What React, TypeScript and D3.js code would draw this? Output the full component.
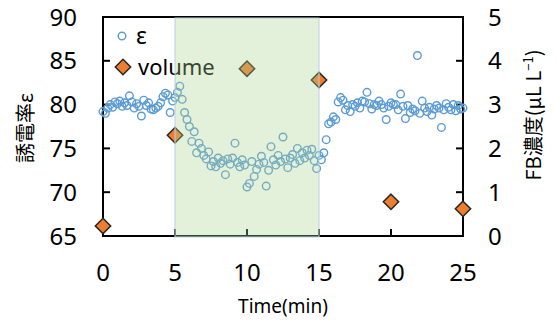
import React from 'react'
import * as d3 from 'd3'

// dielectric constant readings, one every 10 s (t = i / 6 min)
const epsValues = [
  79.2, 79.0, 79.6, 80.0, 79.7, 80.3, 80.1, 80.4, 79.8, 80.2,
  79.9, 81.0, 80.3, 79.6, 80.1, 79.8, 78.7, 80.5, 79.9, 80.2,
  79.5, 79.4, 79.6, 79.8, 80.2, 80.9, 81.3, 81.1, 79.1, 80.4,
  80.8, 81.4, 82.1, 80.6, 79.1, 78.3, 77.5, 75.8, 76.9, 74.5,
  75.6, 75.0, 74.2, 73.8, 74.6, 73.0, 73.5, 72.9, 73.9, 73.3,
  73.6, 72.0, 73.8, 73.2, 73.9, 75.6, 73.4, 72.9, 73.7, 73.1,
  70.6, 71.0, 73.5, 71.8, 72.6, 73.2, 74.1, 73.4, 70.7, 72.5,
  75.2, 73.7, 73.1, 74.2, 73.5, 76.3, 73.8, 72.8, 73.9, 74.3,
  73.3, 75.0, 73.6, 74.5, 73.9, 74.8, 74.2, 74.9, 73.6, 72.7,
  74.2, 73.7, 74.5, 76.0, 77.8, 78.0, 78.6, 78.3, 80.3, 80.8,
  80.5, 79.4, 79.9, 79.2, 80.0, 79.8, 80.2, 79.6, 80.4, 80.3,
  81.4, 80.1, 79.5, 80.0, 79.9, 80.4, 80.0, 79.6, 78.3, 79.8,
  80.2, 80.0, 80.0, 79.4, 81.2, 79.8, 78.4, 79.9, 79.1, 79.5,
  79.3, 85.6, 79.0, 80.4, 79.6, 79.2, 79.7, 78.8, 79.5, 79.9,
  79.6, 77.4, 79.4, 80.1, 79.7, 79.4, 80.0, 79.3, 79.9, 79.5,
  79.6,
]
const epsTimes = epsValues.map((_, i) => i / 6)

const volTimes = [0, 5, 10, 15, 20, 25]
const volValues = [0.23, 2.3, 3.82, 3.56, 0.78, 0.62]

const xTicks = [0, 5, 10, 15, 20, 25]
const yTicks = [65, 70, 75, 80, 85, 90]
const y2Ticks = [0, 1, 2, 3, 4, 5]
const shadeRange = [5, 15]

const FONT = '"Noto Sans", sans-serif'
const CJK = '"Noto Sans CJK JP", "Noto Sans", sans-serif'

export default function App() {
  const W = 556
  const H = 324
  const m = { left: 103, right: 93, top: 17, bottom: 88 }
  const x = d3.scaleLinear().domain([0, 25]).range([m.left, W - m.right])
  const y = d3.scaleLinear().domain([65, 90]).range([H - m.bottom, m.top])
  const y2 = d3.scaleLinear().domain([0, 5]).range([H - m.bottom, m.top])
  const x0 = x(0), x1 = x(25), yb = y(65), yt = y(90)

  const diamond = d3.symbol().type(d3.symbolDiamond2).size(150)()

  return (
    <div style={{ position: 'fixed', left: 0, top: 0 }}>
      <svg width={W} height={H} style={{ display: 'block', background: '#fff' }}>
        {/* frame */}
        <rect x={x0} y={yt} width={x1 - x0} height={yb - yt} fill="none" stroke="#000" strokeWidth={2} />
        {/* inward ticks */}
        {yTicks.slice(1, -1).map(t => (
          <line key={'yl' + t} x1={x0} x2={x0 + 7} y1={y(t)} y2={y(t)} stroke="#000" strokeWidth={2} />
        ))}
        {y2Ticks.slice(1, -1).map(t => (
          <line key={'yr' + t} x1={x1} x2={x1 - 7} y1={y2(t)} y2={y2(t)} stroke="#000" strokeWidth={2} />
        ))}
        {xTicks.slice(1, -1).map(t => (
          <line key={'xt' + t} x1={x(t)} x2={x(t)} y1={yb} y2={yb - 7} stroke="#000" strokeWidth={2} />
        ))}

        {/* tick labels */}
        {yTicks.map(t => (
          <text key={'yt' + t} x={77} y={y(t)} dy="0.36em" textAnchor="end" fontFamily={FONT} fontSize={24}>{t}</text>
        ))}
        {y2Ticks.map(t => (
          <text key={'y2t' + t} x={488} y={y2(t)} dy="0.36em" textAnchor="start" fontFamily={FONT} fontSize={24}>{t}</text>
        ))}
        {xTicks.map(t => (
          <text key={'xl' + t} x={x(t)} y={281} textAnchor="middle" fontFamily={FONT} fontSize={24}>{t}</text>
        ))}

        {/* axis titles */}
        <text x={283} y={313} textAnchor="middle" fontFamily={FONT} fontSize={19}>Time(min)</text>
        <text transform="translate(33,128) rotate(-90)" textAnchor="middle" fontFamily={CJK} fontSize={20}>誘電率ε</text>
        <text transform="translate(541,115) rotate(-90)" textAnchor="middle" fontFamily={CJK} fontSize={20}>
          FB濃度(µL L<tspan fontSize={13} dy={-8}>−1</tspan><tspan dy={8}>)</tspan>
        </text>

        {/* epsilon series */}
        {epsValues.map((v, i) => (
          <circle key={'e' + i} cx={x(epsTimes[i])} cy={y(v)} r={3.8} fill="none" stroke="#5B9BD5" strokeWidth={1.4} />
        ))}

        {/* volume series */}
        {volValues.map((v, i) => (
          <path key={'v' + i} d={diamond} transform={`translate(${x(volTimes[i])},${y2(v)})`}
            fill="#ED7D31" stroke="#262626" strokeWidth={1.5} />
        ))}

        {/* legend */}
        <circle cx={122} cy={36} r={3.8} fill="none" stroke="#5B9BD5" strokeWidth={1.4} />
        <text x={136} y={36} dy="0.36em" fontFamily={FONT} fontSize={23}>ε</text>
        <path d={diamond} transform="translate(123,67)" fill="#ED7D31" stroke="#262626" strokeWidth={1.5} />
        <text x={138} y={67} dy="0.36em" fontFamily={FONT} fontSize={22}>volume</text>

        {/* shaded period, drawn on top */}
        <rect x={x(shadeRange[0])} y={yt + 1} width={x(shadeRange[1]) - x(shadeRange[0])} height={yb - yt}
          fill="#A9D08E" fillOpacity={0.33} stroke="#b9cfdf" strokeWidth={1} />
      </svg>
    </div>
  )
}
